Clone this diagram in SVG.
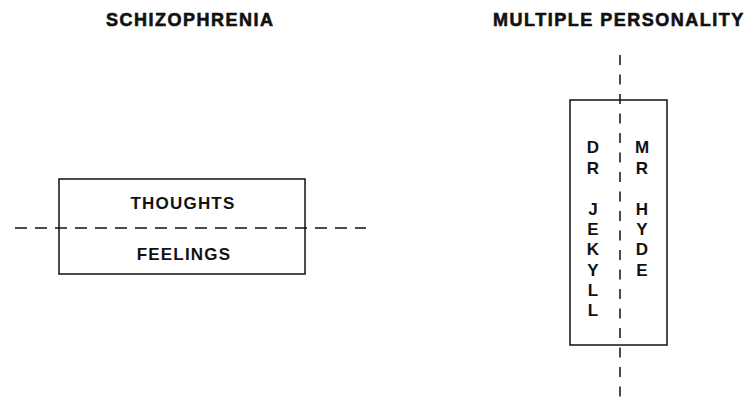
<svg xmlns="http://www.w3.org/2000/svg" width="750" height="405" viewBox="0 0 750 405">
<style>
.title{font-family:"Liberation Sans",Arial,sans-serif;font-weight:bold;font-size:18px;letter-spacing:1.5px;fill:#111;stroke:#111;stroke-width:0.6}
.lbl{font-family:"Liberation Sans",Arial,sans-serif;font-weight:bold;font-size:17px;letter-spacing:1.2px;fill:#111;text-anchor:middle}
.vl{font-family:"Liberation Sans",Arial,sans-serif;font-weight:bold;font-size:17px;fill:#111;text-anchor:middle}
.box{fill:none;stroke:#111;stroke-width:1.5}
.dash{fill:none;stroke:#111;stroke-width:1.5}
</style>
<rect width="750" height="405" fill="#fff"/>
<text class="title" x="106" y="26">SCHIZOPHRENIA</text>
<text class="title" x="493" y="26">MULTIPLE PERSONALITY</text>
<g id="schizophrenia-box">
<rect class="box" x="59" y="179" width="246" height="95"/>
<text class="lbl" x="183" y="209">THOUGHTS</text>
<text class="lbl" x="184" y="260">FEELINGS</text>
</g>
<g id="multiple-box">
<rect class="box" x="570" y="100" width="97" height="245"/>
<g class="vl">
<text x="593" y="153">D</text>
<text x="593" y="173.5">R</text>
<text x="593" y="214.5">J</text>
<text x="593" y="235">E</text>
<text x="593" y="255">K</text>
<text x="593" y="275.5">Y</text>
<text x="593" y="296">L</text>
<text x="593" y="316">L</text>
<text x="642" y="153">M</text>
<text x="642" y="173.5">R</text>
<text x="642" y="214.5">H</text>
<text x="642" y="235">Y</text>
<text x="642" y="255">D</text>
<text x="642" y="275.5">E</text>
</g>
</g>
<g id="connectors">
<line class="dash" x1="15" y1="228" x2="366" y2="228" stroke-dasharray="12 8"/>
<line class="dash" x1="620" y1="55" x2="620" y2="405" stroke-dasharray="10 9.5"/>
</g>
</svg>
